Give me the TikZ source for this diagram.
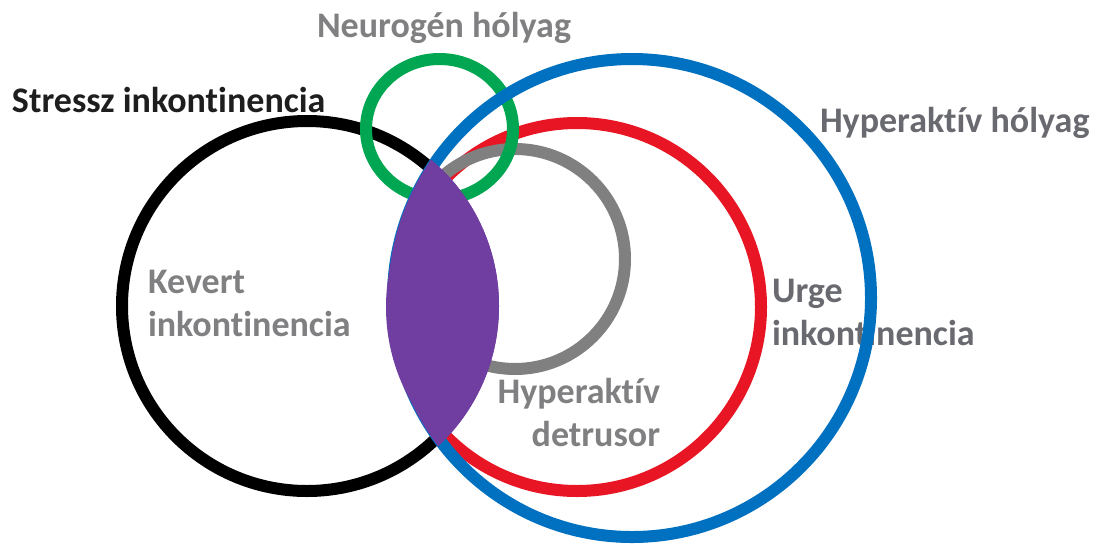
\documentclass[tikz,border=0pt]{standalone}
\usepackage{fontspec}
\setmainfont{Carlito}[Ligatures=NoCommon]
\definecolor{ured}{RGB}{232,22,36}
\definecolor{ublue}{RGB}{0,112,192}
\definecolor{ugray}{RGB}{128,128,128}
\definecolor{ugreen}{RGB}{0,166,81}
\definecolor{upurple}{RGB}{112,62,160}
\definecolor{txtgray}{RGB}{128,128,130}
\definecolor{txtdark}{RGB}{105,106,112}
\definecolor{txtblack}{RGB}{30,30,30}
\begin{document}
\begin{tikzpicture}[x=1pt,y=-1pt,
  ring/.style={line width=12pt},
  lbl/.style={font=\bfseries\fontsize{36}{43.5}\selectfont, inner sep=0pt, outer sep=0pt}]
\useasboundingbox[fill=white] (0,0) rectangle (1099,544);
% circles
\draw[ring, black] (307,306) circle (185);
\draw[ring, ured] (577,307) circle (184);
\draw[ring, ugray] (515,259) circle (110);
\draw[ring, ugreen] (439.5,129) ellipse (73.5 and 70);
\node[lbl, txtdark, anchor=base west, align=left] (urge) at (772,345.5) {Urge\\inkontinencia};
\draw[ring, ublue] (632,298) circle (239);
% lens: black disk intersected with the red and blue disks
\begin{scope}
  \clip (307,306) circle (192);
  \fill[upurple] (577,307) circle (191);
  \fill[upurple] (632,298) circle (244);
\end{scope}
% labels
\node[lbl, txtgray, anchor=base] (neuro) at (444,37) {Neurogén hólyag};
\node[lbl, txtblack, anchor=base west] (stress) at (12,112) {Stressz inkontinencia};
\node[lbl, txtdark, anchor=base west] (hyperh) at (820,132) {Hyperaktív hólyag};
\node[lbl, txtgray, anchor=base west, align=left] (kevert) at (148,336.5) {Kevert\\inkontinencia};
\node[lbl, txtgray, anchor=base east, align=right] (detr) at (660,446.5) {Hyperaktív\\detrusor};
\end{tikzpicture}
\end{document}
